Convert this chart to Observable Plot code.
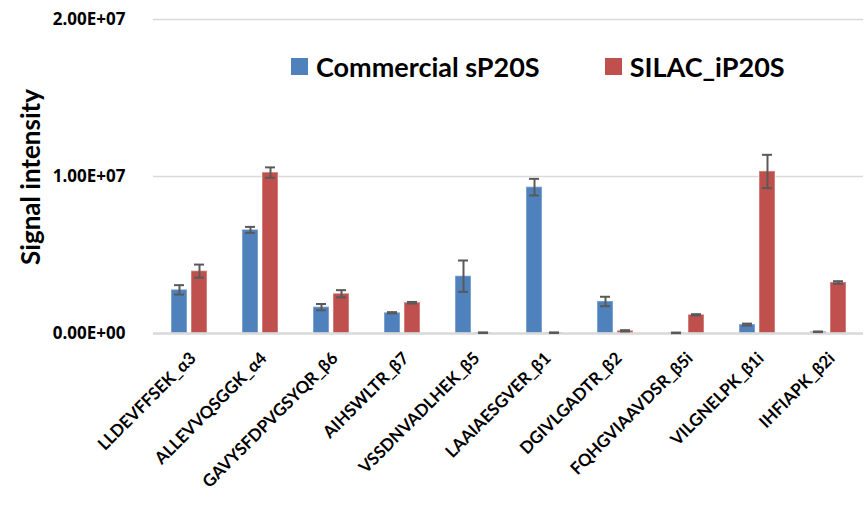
<!DOCTYPE html>
<html>
<head>
<meta charset="utf-8">
<script src="https://cdn.jsdelivr.net/npm/d3@7"></script>
<script src="https://cdn.jsdelivr.net/npm/@observablehq/plot@0.6"></script>
<style>
  html, body { margin: 0; padding: 0; background: #fff; }
  #wrap { position: relative; width: 866px; height: 507px; font-family: Lato, "Open Sans", sans-serif; }
  #legend { position: absolute; top: 50px; left: 291px; display: flex; align-items: center; font-weight: bold; font-size: 27px; color: #000; white-space: nowrap; }
  .sw { display: inline-block; width: 17px; height: 17px; margin-right: 8px; }
  #ylabel { position: absolute; left: 30px; top: 177px; transform: translate(-50%, -50%) rotate(-90deg); font-weight: bold; font-size: 26px; white-space: nowrap; color: #000; }
</style>
</head>
<body>
<div id="wrap"><div id="legend"></div><div id="ylabel"></div></div>
<script>
const categories = ["LLDEVFFSEK_α3","ALLEVVQSGGK_α4","GAVYSFDPVGSYQR_β6","AIHSWLTR_β7","VSSDNVADLHEK_β5","LAAIAESGVER_β1","DGIVLGADTR_β2","FQHGVIAAVDSR_β5i","VILGNELPK_β1i","IHFIAPK_β2i"];
const seriesNames = ["Commercial sP20S", "SILAC_iP20S"];
const seriesColors = ["#4F81BD", "#C0504D"];
const commercial    = [2.78e6, 6.60e6, 1.68e6, 1.32e6, 3.65e6, 9.32e6, 2.04e6, 0.04e6, 0.57e6, 0.11e6];
const commercialErr = [0.30e6, 0.19e6, 0.20e6, 0.04e6, 1.00e6, 0.53e6, 0.30e6, 0.02e6, 0.06e6, 0.02e6];
const silac         = [3.97e6, 10.25e6, 2.53e6, 1.96e6, 0.05e6, 0.05e6, 0.17e6, 1.19e6, 10.32e6, 3.25e6];
const silacErr      = [0.42e6, 0.33e6, 0.23e6, 0.05e6, 0.02e6, 0.02e6, 0.04e6, 0.04e6, 1.06e6, 0.08e6];
const yTicks = [0, 1e7, 2e7];
const yTickLabels = ["0.00E+00", "1.00E+07", "2.00E+07"];
const yTitle = "Signal intensity";

const rows = [];
categories.forEach((c, i) => {
  rows.push({cat: c, series: seriesNames[0], value: commercial[i], err: commercialErr[i]});
  rows.push({cat: c, series: seriesNames[1], value: silac[i], err: silacErr[i]});
});

const chart = Plot.plot({
  width: 866,
  height: 507,
  marginTop: 19,
  marginLeft: 149,
  marginRight: 0,
  marginBottom: 174,
  style: {fontFamily: "Lato, 'Open Sans', sans-serif", color: "#000", background: "#fff"},
  fx: {domain: categories, paddingInner: 0, paddingOuter: 0, axis: null},
  x: {domain: seriesNames, paddingInner: 0.22, paddingOuter: 0.86, axis: null},
  y: {domain: [0, 2e7], axis: null},
  color: {domain: seriesNames, range: seriesColors},
  marks: [
    Plot.ruleY(yTicks.slice(1), {stroke: "#D9D9D9", strokeWidth: 1.5}),
    Plot.axisY(yTicks, {anchor: "left", tickFormat: d => yTickLabels[yTicks.indexOf(d)], tickSize: 0, tickPadding: 28, label: null,
      fontSize: 17, fontWeight: "bold", fill: "#000"}),
    Plot.axisFx({anchor: "bottom", tickRotate: -45, tickSize: 0, tickPadding: 22, dx: 4, label: null, fontSize: 17, fontWeight: "bold", fill: "#000"}),
    Plot.barY(rows, {fx: "cat", x: "series", y: "value", fill: "series", stroke: "#ffffff", strokeOpacity: 0.35, strokeWidth: 1.5}),
    Plot.ruleY([0], {stroke: "#D9D9D9", strokeWidth: 2.5}),
    Plot.ruleX(rows, {fx: "cat", x: "series", y1: d => d.value - d.err, y2: d => d.value + d.err, stroke: "#595959", strokeWidth: 2}),
    Plot.tickY(rows, {fx: "cat", x: "series", y: d => d.value - d.err, stroke: "#595959", strokeWidth: 2, insetLeft: 3, insetRight: 3}),
    Plot.tickY(rows, {fx: "cat", x: "series", y: d => d.value + d.err, stroke: "#595959", strokeWidth: 2, insetLeft: 3, insetRight: 3})
  ]
});
chart.style.position = "absolute";
chart.style.left = "0";
chart.style.top = "0";
chart.querySelectorAll('g[aria-label="y-axis tick label"]').forEach(g => { g.style.fontSize = "17px"; g.style.fontWeight = "bold"; g.style.fontFamily = "'Open Sans', sans-serif"; });
chart.querySelectorAll('g[aria-label="fx-axis tick label"]').forEach(g => { g.style.fontSize = "17px"; g.style.fontWeight = "bold"; });
const wrap = document.getElementById("wrap");
wrap.insertBefore(chart, wrap.firstChild);
document.getElementById("ylabel").textContent = yTitle;

const legend = document.getElementById("legend");
seriesNames.forEach((s, i) => {
  const item = document.createElement("span");
  item.style.display = "inline-flex";
  item.style.alignItems = "center";
  item.style.marginRight = i === 0 ? "65px" : "0";
  item.innerHTML = `<span class="sw" style="background:${seriesColors[i]}"></span>${s}`;
  legend.appendChild(item);
});
</script>
</body>
</html>
